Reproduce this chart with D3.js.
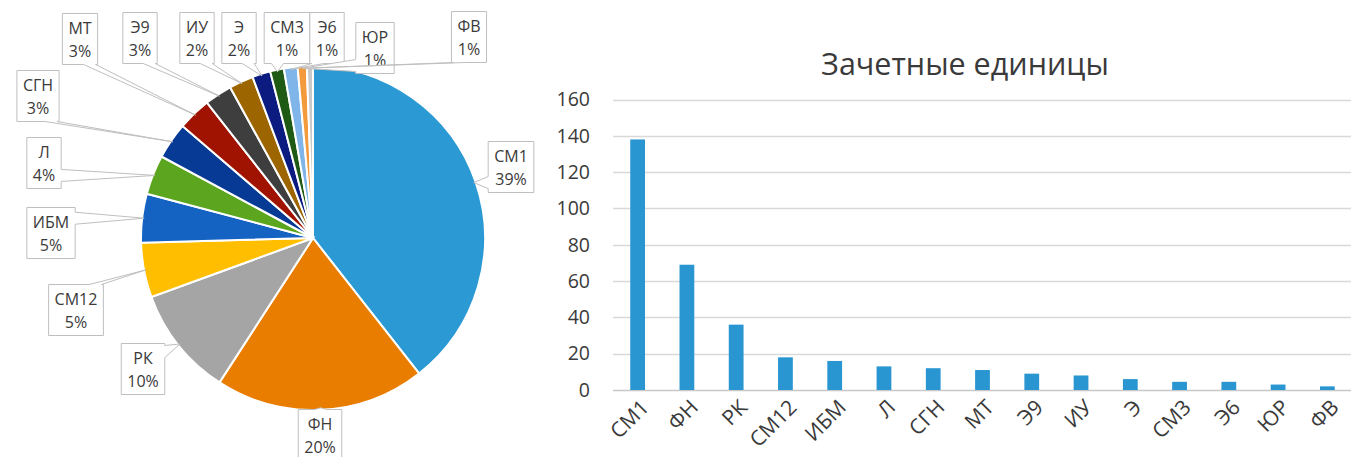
<!DOCTYPE html>
<html>
<head>
<meta charset="utf-8">
<script src="https://cdn.jsdelivr.net/npm/d3@7"></script>
<style>
  body { margin: 0; background: #fff; }
  text { font-family: "Open Sans", "Noto Sans", sans-serif; fill: #3a3a3a; }
</style>
</head>
<body>
<svg class="chart"></svg>
<script>
// data
let categories = ["СМ1", "ФН", "РК", "СМ12", "ИБМ", "Л", "СГН", "МТ", "Э9", "ИУ", "Э", "СМ3", "Э6", "ЮР", "ФВ"];
let credits = [138, 69, 36, 18, 16, 13, 12, 11, 9, 8, 6, 4.5, 4.5, 3, 2];
let sliceColors = ["#2a99d4", "#e97d00", "#a5a5a5", "#ffbf00", "#1463c2", "#5ba51f",
                   "#063a95", "#a01300", "#3e3e3e", "#9c6500", "#0b1b80", "#1e5a14",
                   "#7fb5e8", "#f39b3c", "#c9c9c9"];
let yTicks = [0, 20, 40, 60, 80, 100, 120, 140, 160];
let title = "Зачетные единицы";

// where excel dropped the pie labels (box centres)
let labelCentres = [[511, 167], [320, 435], [143, 369], [76, 310], [51, 233], [44, 163], [38, 96],
                    [80, 39], [140, 38], [197, 38], [239, 38], [287, 38], [327, 38], [375, 48], [469, 37]];

let W = 1351, H = 457;
var svg = d3.select(".chart").attr("width", W).attr("height", H);

// ---------- pie ----------
let cx = 313, cy = 238, r = 172;
let total = d3.sum(credits);

var pie = d3.pie().sort(null).value(d => d.v);
var arc = d3.arc().innerRadius(0).outerRadius(r);
var slices = pie(categories.map((c, i) => ({c: c, v: credits[i], i: i})));

var pg = svg.append("g").attr("transform", "translate(" + cx + "," + cy + ")");
pg.selectAll("path.slice")
  .data(slices)
  .enter().append("path")
  .attr("class", "slice")
  .attr("d", arc)
  .attr("fill", d => sliceColors[d.data.i])
  .attr("stroke", "#fff")
  .attr("stroke-width", 2);

// callout labels
var lg = svg.append("g");
slices.forEach(function(d, i) {
  let mid = (d.startAngle + d.endAngle) / 2;
  let tx = cx + (r - 2) * Math.sin(mid);
  let ty = cy - (r - 2) * Math.cos(mid);
  let [bx, by] = labelCentres[i];

  let g = lg.append("g");
  let path = g.append("path");
  let t1 = g.append("text").attr("x", bx).attr("y", by - 11.5)
    .attr("text-anchor", "middle").attr("dominant-baseline", "central")
    .attr("font-size", "16px").text(d.data.c);
  let t2 = g.append("text").attr("x", bx).attr("y", by + 11.5)
    .attr("text-anchor", "middle").attr("dominant-baseline", "central")
    .attr("font-size", "16px").text(Math.round(d.data.v / total * 100) + "%");

  let bw = Math.max(t1.node().getComputedTextLength(), t2.node().getComputedTextLength()) + 12;
  let bh = 51;
  let x0 = bx - bw / 2, x1 = bx + bw / 2, y0 = by - bh / 2, y1 = by + bh / 2;
  let hw = 6;
  let clamp = (v, a, b) => Math.max(a, Math.min(b, v));
  let p;
  if (ty > y1) {
    let m = clamp(tx, x0 + hw + 2, x1 - hw - 2);
    p = [[x0, y0], [x1, y0], [x1, y1], [m + hw, y1], [tx, ty], [m - hw, y1], [x0, y1]];
  } else if (ty < y0) {
    let m = clamp(tx, x0 + hw + 2, x1 - hw - 2);
    p = [[x0, y0], [m - hw, y0], [tx, ty], [m + hw, y0], [x1, y0], [x1, y1], [x0, y1]];
  } else if (tx > x1) {
    let m = clamp(ty, y0 + hw + 2, y1 - hw - 2);
    p = [[x0, y0], [x1, y0], [x1, m - hw], [tx, ty], [x1, m + hw], [x1, y1], [x0, y1]];
  } else {
    let m = clamp(ty, y0 + hw + 2, y1 - hw - 2);
    p = [[x0, y0], [x1, y0], [x1, y1], [x0, y1], [x0, m + hw], [tx, ty], [x0, m - hw]];
  }
  path.attr("d", "M" + p.map(q => q.join(",")).join("L") + "Z")
    .attr("fill", "#fff")
    .attr("stroke", "#bfbfbf")
    .attr("stroke-width", 1);
});

// ---------- bar chart ----------
let plotL = 613, plotR = 1352, plotT = 99.5, plotB = 390;

var xS = d3.scaleBand().domain(categories).range([plotL, plotR])
           .paddingInner(0.7).paddingOuter(0.35);
var yS = d3.scaleLinear().domain([0, 160]).range([plotB, plotT]);

svg.append("text")
   .attr("x", 965).attr("y", 75)
   .attr("text-anchor", "middle")
   .attr("font-size", "30.5px")
   .text(title);

var grid = svg.append("g");
grid.selectAll("line")
    .data(yTicks)
    .enter().append("line")
    .attr("x1", plotL).attr("x2", W)
    .attr("y1", d => Math.round(yS(d)) + 0.5)
    .attr("y2", d => Math.round(yS(d)) + 0.5)
    .attr("stroke", d => d == 0 ? "#c8c8c8" : "#d9d9d9")
    .attr("stroke-width", 1.5);

var yAxis = svg.append("g")
   .attr("transform", "translate(" + plotL + ",0)")
   .call(d3.axisLeft(yS).tickValues(yTicks).tickSize(0).tickPadding(23));
yAxis.select(".domain").remove();
yAxis.selectAll("text").attr("font-size", "19.5px").attr("fill", "#3a3a3a")
     .style("font-family", "'Open Sans', sans-serif");

svg.selectAll("rect.bar")
   .data(credits)
   .enter().append("rect")
   .attr("class", "bar")
   .attr("x", (d, i) => xS(categories[i]))
   .attr("y", d => yS(d))
   .attr("width", xS.bandwidth())
   .attr("height", d => plotB - yS(d))
   .attr("fill", "#2996d2");

svg.append("g").selectAll("text")
   .data(categories)
   .enter().append("text")
   .attr("transform", d => "translate(" + (xS(d) + xS.bandwidth() / 2 + 7) + "," + (plotB + 13) + ") rotate(-45)")
   .attr("text-anchor", "end")
   .attr("dominant-baseline", "central")
   .attr("font-size", "21px")
   .text(d => d);
</script>
</body>
</html>
